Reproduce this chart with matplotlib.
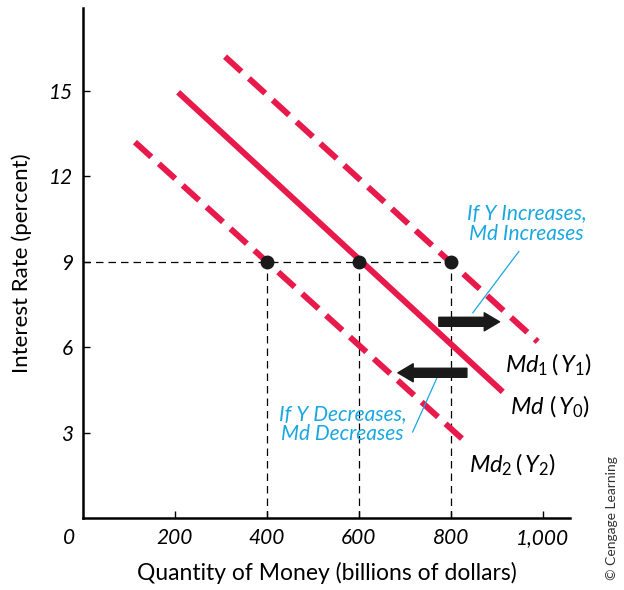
import matplotlib
matplotlib.use("Agg")
import matplotlib.pyplot as plt
import numpy as np

plt.rcParams['font.family'] = ['Lato', 'DejaVu Sans']
plt.rcParams['mathtext.fontset'] = 'custom'
plt.rcParams['mathtext.rm'] = 'Lato'
plt.rcParams['mathtext.it'] = 'Lato:italic'

# demand curves: (x_start, y_start, x_end, y_end)
md1 = [309, 16.2, 989, 6.19]
md0 = [207, 14.95, 913, 4.43]
md2 = [113, 13.2, 837, 2.6]

# equilibrium points at 9 percent
eq_x = [400, 600, 800]
eq_y = [9, 9, 9]

xticks = [200, 400, 600, 800, 1000]
xlabels = ['200', '400', '600', '800', '1,000']
yticks = [3, 6, 9, 12, 15]

red = '#e8194b'
blue = '#1aa7e0'

fig = plt.figure(figsize=(6.24, 5.9), dpi=100)
ax = fig.add_axes([0.133, 0.122, 0.781, 0.864])
ax.set_xlim(0, 1060)
ax.set_ylim(0, 17.9)

# guide lines
ax.plot([0, eq_x[-1]], [9, 9], color='black', lw=0.9, ls=(0, (6, 4)))
for x in eq_x:
    ax.plot([x, x], [0, 9], color='black', lw=0.9, ls=(0, (6, 4)))

ax.plot([md1[0], md1[2]], [md1[1], md1[3]], color=red, lw=4.3,
        ls=(0, (3.7, 1.7)), solid_capstyle='butt')
ax.plot([md0[0], md0[2]], [md0[1], md0[3]], color=red, lw=4.3, solid_capstyle='butt')
ax.plot([md2[0], md2[2]], [md2[1], md2[3]], color=red, lw=4.3,
        ls=(0, (3.7, 1.7)), solid_capstyle='butt')

ax.plot(eq_x, eq_y, 'o', color='#1a1a1a', ms=9, zorder=5)

# shift arrows
arrow = dict(arrowstyle='simple,head_width=1.3,head_length=1.1,tail_width=0.65',
             color='#1a1a1a', shrinkA=0, shrinkB=0)
ax.annotate('', xy=(906, 6.89), xytext=(774, 6.89), arrowprops=arrow)
ax.annotate('', xy=(685, 5.1), xytext=(835, 5.1), arrowprops=arrow)

# callouts
ax.plot([948, 848], [9.36, 7.21], color=blue, lw=0.9)
ax.plot([776, 717], [5.14, 3.02], color=blue, lw=0.9)
ax.text(965, 10.34, 'If Y Increases,\nMd Increases', color=blue, fontsize=15,
        style='italic', ha='center', va='center', linespacing=1.0)
ax.text(565, 3.31, 'If Y Decreases,\nMd Decreases', color=blue, fontsize=15,
        style='italic', ha='center', va='center', linespacing=1.0)

# curve labels
ax.text(917, 5.38, r'$Md_1\,(\,Y_1)$', fontsize=17, va='center', ha='left')
ax.text(928, 3.9, r'$Md\ (\,Y_0)$', fontsize=17, va='center', ha='left')
ax.text(839, 1.86, r'$Md_2\,(\,Y_2)$', fontsize=17, va='center', ha='left')

ax.spines['top'].set_visible(False)
ax.spines['right'].set_visible(False)
ax.spines['left'].set_linewidth(1.8)
ax.spines['bottom'].set_linewidth(1.8)
ax.set_xticks(xticks)
ax.set_xticklabels(xlabels, style='italic', fontsize=15)
ax.set_yticks(yticks)
ax.set_yticklabels([str(v) for v in yticks], style='italic', fontsize=15)
ax.tick_params(direction='in', length=5, width=1, pad=7)
ax.annotate('0', xy=(0, 0), xytext=(-10, -7), textcoords='offset points',
            ha='center', va='top', style='italic', fontsize=15)

ax.set_xlabel('Quantity of Money (billions of dollars)', fontsize=16.5, labelpad=10)
ax.set_ylabel('Interest Rate (percent)', fontsize=16, labelpad=12)

fig.text(0.981, 0.122, '© Cengage Learning', rotation=90, fontsize=10,
         ha='center', va='center', color='#333333')

fig.savefig('out.png', dpi=100)
